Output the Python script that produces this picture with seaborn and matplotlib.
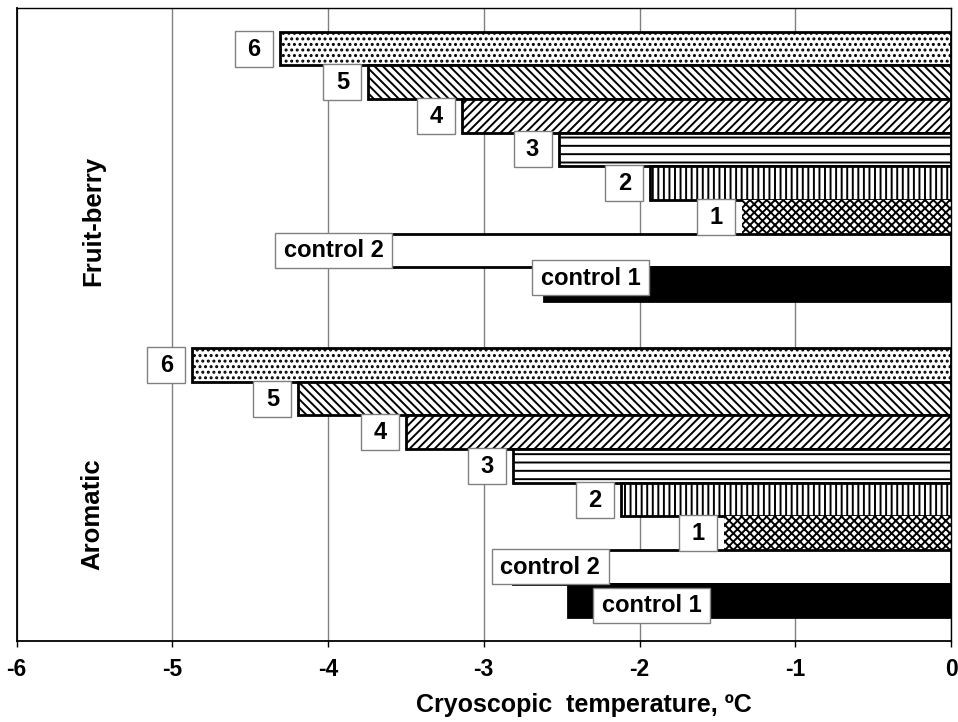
import numpy as np
import pandas as pd
import matplotlib
matplotlib.use("Agg")
import matplotlib.pyplot as plt
import seaborn as sns
from matplotlib.patches import Rectangle
from matplotlib.transforms import ScaledTranslation

# ---- data ----
groups = ["Fruit-berry", "Aromatic"]
samples = ["6", "5", "4", "3", "2", "1", "control 2", "control 1"]
fruit_berry = [-4.31, -3.74, -3.14, -2.52, -1.93, -1.34, -4.20, -2.61]
aromatic = [-4.87, -4.19, -3.50, -2.81, -2.12, -1.46, -2.81, -2.46]
x_ticks = [-6, -5, -4, -3, -2, -1, 0]
x_label = "Cryoscopic  temperature, ºC"

df = pd.DataFrame({
    "group": np.repeat(groups, len(samples)),
    "sample": samples * len(groups),
    "value": fruit_berry + aromatic,
})

# ---- styling ----
sns.set_theme(style="white")
plt.rcParams["font.family"] = ["Liberation Sans", "DejaVu Sans"]
plt.rcParams["hatch.linewidth"] = 1.4
plt.rcParams["hatch.color"] = "black"
plt.rcParams["text.color"] = "black"
plt.rcParams["xtick.color"] = "black"
plt.rcParams["xtick.labelcolor"] = "black"

# sample -> (facecolor, hatch, edge linewidth)
bar_styles = {
    "6": ("white", "...", 2.0),
    "5": ("white", "\\\\\\\\", 2.0),
    "4": ("white", "////", 2.0),
    "3": ("white", "--", 2.0),
    "2": ("white", "|||", 2.0),
    "1": ("white", "xxxx", 0.0),
    "control 2": ("white", None, 2.0),
    "control 1": ("black", None, 2.0),
}

# label-box placement relative to the bar end (pixels: dx right, dy down)
control_shift = {
    ("Fruit-berry", "control 2"): (37, 0),
    ("Fruit-berry", "control 1"): (46, -6),
    ("Aromatic", "control 2"): (37, 0),
    ("Aromatic", "control 1"): (84, 5),
}

W, H = 958, 722
fig = plt.figure(figsize=(W / 100, H / 100), dpi=100)
L, R, T, B = 16.5, 951, 8, 641
ax = fig.add_axes([L / W, 1 - B / H, (R - L) / W, (B - T) / H])

sns.barplot(data=df, x="value", y="group", hue="sample", order=groups,
            hue_order=samples, orient="h", width=0.85, errorbar=None,
            saturation=1, legend=False, ax=ax)

for cont, s in zip(ax.containers, samples):
    fc, hatch, lw = bar_styles[s]
    for bar in cont:
        bar.set_facecolor(fc)
        bar.set_edgecolor("black")
        bar.set_linewidth(lw)
        bar.set_hatch(hatch)
        bar.set_joinstyle("miter")
        bar.set_zorder(2)

ax.set_xlim(-6, 0)
ax.set_ylim(1.5, -0.5)
ax.set_xticks(x_ticks)
ax.set_xticklabels([str(t) for t in x_ticks], fontsize=16.5,
                   fontweight="bold", color="black")
ax.set_yticks([])
ax.set_xlabel("")
ax.set_ylabel("")
ax.grid(axis="x", color="#808080", linewidth=1)
ax.set_axisbelow(True)
ax.tick_params(axis="x", direction="out", length=4, width=1, color="black",
               pad=8, bottom=True)
for side, sp in ax.spines.items():
    sp.set_visible(True)
    sp.set_color("black")
    sp.set_linewidth(1.3 if side in ("left", "bottom") else 1.0)
    sp.set_zorder(3)

# group labels
ax.text(-5.51, 0.174, "Fruit-berry", rotation=90, ha="center", va="center",
        fontsize=18.5, fontweight="bold", color="black")
ax.text(-5.51, 1.098, "Aromatic", rotation=90, ha="center", va="center",
        fontsize=18.5, fontweight="bold", color="black")


def label_box(x, y, cx, cy, w, h, text):
    trans = fig.dpi_scale_trans + ScaledTranslation(x, y, ax.transData)
    ax.add_patch(Rectangle(((cx - w / 2) / 100, (-cy - h / 2) / 100),
                           w / 100, h / 100, transform=trans,
                           facecolor="white", edgecolor="#808080",
                           linewidth=1, zorder=5, clip_on=False))
    ax.text(cx / 100, -cy / 100 - 0.005, text, transform=trans, ha="center",
            va="center", fontsize=17, fontweight="bold", color="black",
            zorder=6)


for cont, s in zip(ax.containers, samples):
    for g, bar in zip(groups, cont):
        end = min(bar.get_x(), bar.get_x() + bar.get_width())
        yc = bar.get_y() + bar.get_height() / 2
        if s.startswith("control"):
            dx, dy = control_shift[(g, s)]
            label_box(end, yc, dx, dy, 117, 35, s)
        else:
            label_box(end, yc, -26, 0, 38, 36, s)

fig.text(584 / W, 1 - 705 / H, x_label, ha="center", va="center",
         fontsize=18, fontweight="bold", color="black")

fig.savefig("out.png", dpi=100)
